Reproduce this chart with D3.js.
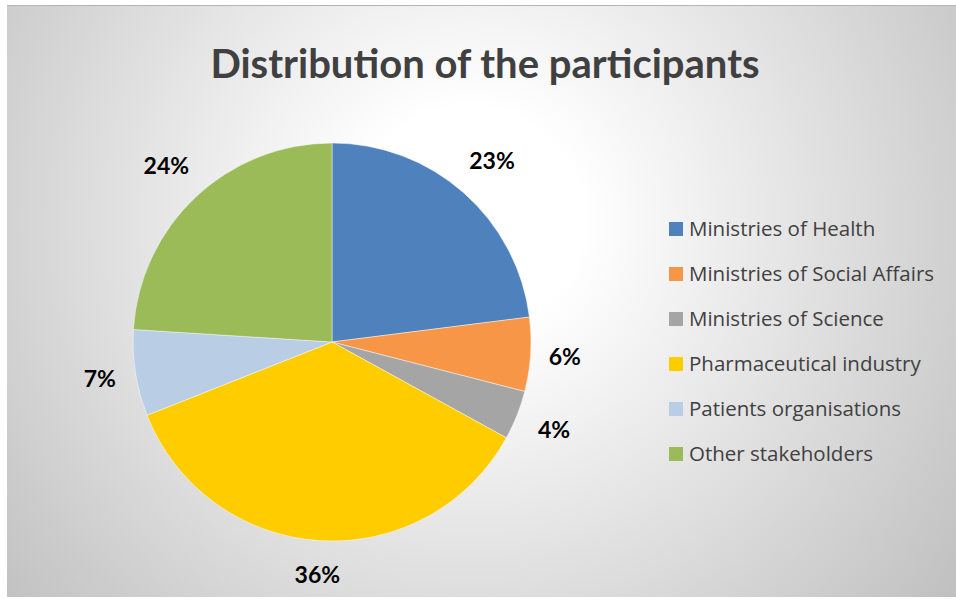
<!DOCTYPE html>
<html>
<head>
<meta charset="utf-8">
<script src="https://cdn.jsdelivr.net/npm/d3@7"></script>
<style>
  html, body { margin: 0; padding: 0; background: #fff; }
  svg { display: block; }
</style>
</head>
<body>
<svg id="chart" width="956" height="599"></svg>
<script>
// Participant groups and their share of the total (percent)
const categories = [
  "Ministries of Health",
  "Ministries of Social Affairs",
  "Ministries of Science",
  "Pharmaceutical industry",
  "Patients organisations",
  "Other stakeholders"
];
const shares = [23, 6, 4, 36, 7, 24];
const colors = ["#4F81BD", "#F79646", "#A5A5A5", "#FFCC00", "#B9CDE5", "#9BBB59"];
const title = "Distribution of the participants";

const W = 956, H = 599;
const svg = d3.select("#chart");

// Frame with a soft radial background
const defs = svg.append("defs");
const grad = defs.append("radialGradient")
  .attr("id", "bg")
  .attr("gradientUnits", "userSpaceOnUse")
  .attr("cx", 470).attr("cy", 220).attr("r", 620);
grad.append("stop").attr("offset", "0%").attr("stop-color", "#ffffff");
grad.append("stop").attr("offset", "18%").attr("stop-color", "#ffffff");
grad.append("stop").attr("offset", "100%").attr("stop-color", "#bfbfbf");

svg.append("rect")
  .attr("x", 7).attr("y", 5).attr("width", W - 7).attr("height", H - 7)
  .attr("fill", "url(#bg)");
svg.append("line")
  .attr("x1", 7).attr("x2", W).attr("y1", 5.5).attr("y2", 5.5)
  .attr("stroke", "#b4b4b4").attr("stroke-width", 1);

// Title
svg.append("text")
  .attr("x", 485).attr("y", 78)
  .attr("text-anchor", "middle")
  .attr("font-family", "Lato, 'Open Sans', sans-serif")
  .attr("font-weight", "bold")
  .attr("font-size", 40)
  .attr("fill", "#404040")
  .text(title);

// Pie
const cx = 332, cy = 342, R = 199;
const data = categories.map((c, i) => ({ name: c, value: shares[i], color: colors[i] }));
const pie = d3.pie().sort(null).value(d => d.value).startAngle(0).endAngle(2 * Math.PI);
const arcs = pie(data);
const arc = d3.arc().innerRadius(0).outerRadius(R);

const g = svg.append("g").attr("transform", `translate(${cx},${cy})`);
g.selectAll("path.slice")
  .data(arcs)
  .join("path")
  .attr("class", "slice")
  .attr("d", arc)
  .attr("fill", d => d.data.color)
  .attr("stroke", "#ffffff")
  .attr("stroke-opacity", 0.6)
  .attr("stroke-width", 0.75);

// Percentage labels outside the slices
g.selectAll("text.pct")
  .data(arcs)
  .join("text")
  .attr("class", "pct")
  .attr("transform", d => {
    const a = (d.startAngle + d.endAngle) / 2;
    const r = 232 + 10 * Math.abs(Math.sin(2 * a));
    return `translate(${r * Math.sin(a)},${-r * Math.cos(a)})`;
  })
  .attr("text-anchor", "middle")
  .attr("dy", "0.36em")
  .attr("font-family", "Lato, 'Open Sans', sans-serif")
  .attr("font-weight", "bold")
  .attr("font-size", 23)
  .attr("fill", "#000")
  .text(d => d.data.value + "%");

// Legend
const legend = svg.append("g").attr("transform", "translate(669,229)");
const rows = legend.selectAll("g.item")
  .data(data)
  .join("g")
  .attr("class", "item")
  .attr("transform", (d, i) => `translate(0,${i * 45})`);
rows.append("rect")
  .attr("x", 0).attr("y", -7).attr("width", 14).attr("height", 14)
  .attr("fill", d => d.color);
rows.append("text")
  .attr("x", 20).attr("y", 0).attr("dy", "0.35em")
  .attr("font-family", "'Open Sans', Lato, sans-serif")
  .attr("font-size", 20.5)
  .attr("fill", "#404040")
  .text(d => d.name);
</script>
</body>
</html>
